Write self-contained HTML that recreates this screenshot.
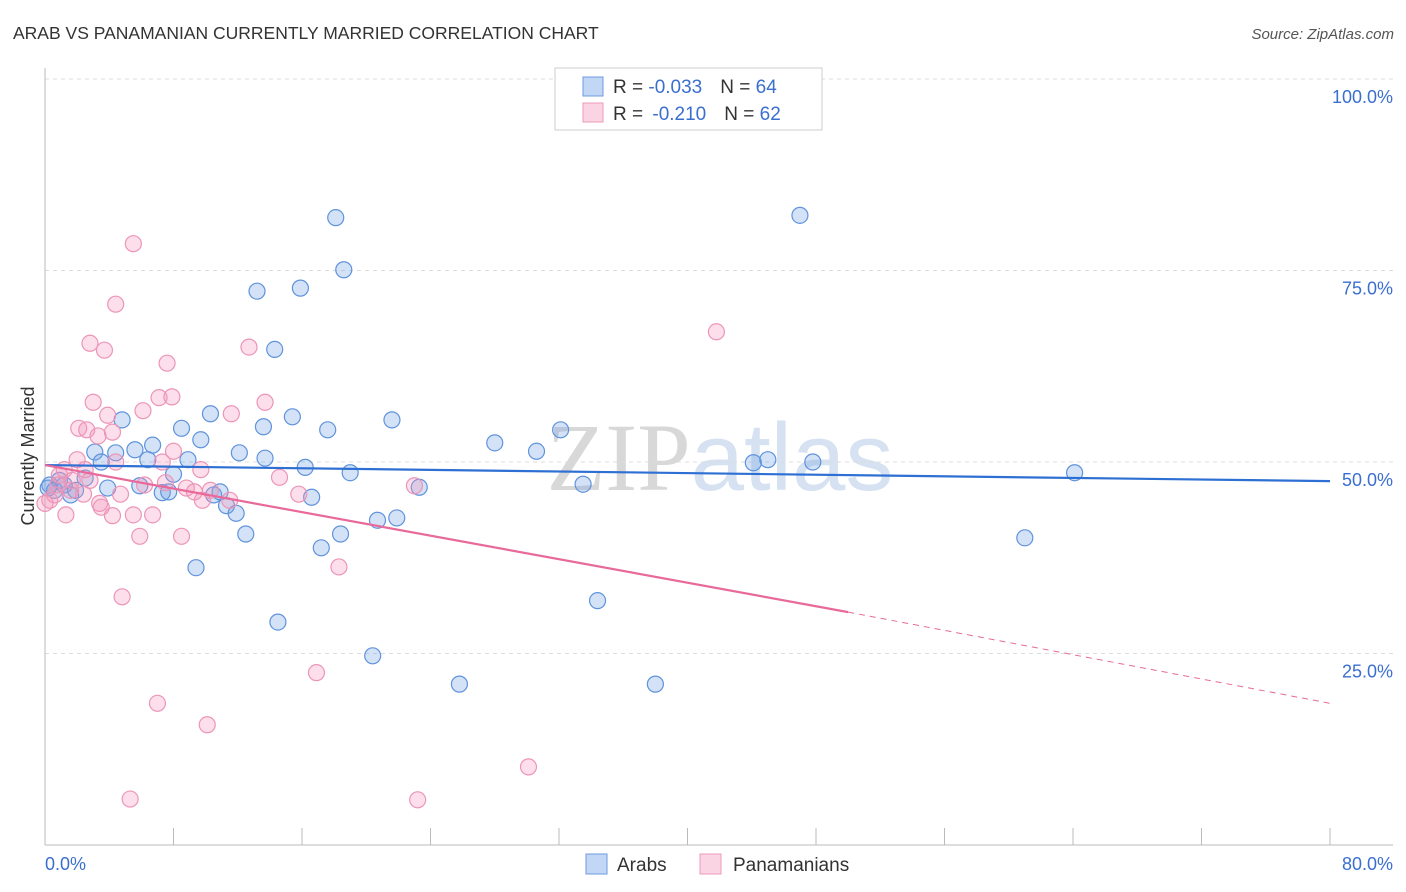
<!DOCTYPE html>
<html><head><meta charset="utf-8">
<style>
body{margin:0;background:#fff;font-family:"Liberation Sans",sans-serif;}
#wrap{position:relative;width:1406px;height:892px;overflow:hidden;}
</style></head>
<body>
<div id="wrap">
<svg id="svg" width="1406" height="892" xmlns="http://www.w3.org/2000/svg">
<text x="13" y="39" font-size="17.5" fill="#333">ARAB VS PANAMANIAN CURRENTLY MARRIED CORRELATION CHART</text>
<text x="1394" y="39" font-size="15" fill="#555" font-style="italic" text-anchor="end">Source: ZipAtlas.com</text>
<text x="720" y="490" font-size="96" fill="#e3e8ef" text-anchor="middle" font-family="Liberation Serif,serif"><tspan fill="#d8d8d8">ZIP</tspan><tspan fill="#d6e2f2" font-family="Liberation Sans,sans-serif">atlas</tspan></text>
<g id="grid"></g>
<g id="axes"></g>
<g id="pts"></g>
<g id="trend"></g>
<text transform="translate(34,456) rotate(-90)" font-size="18" fill="#333" text-anchor="middle">Currently Married</text>
<g>
<rect x="555" y="68" width="267" height="62" fill="#fff" stroke="#ccc"/>
<rect x="583" y="77" width="20" height="19" fill="rgba(120,165,235,0.45)" stroke="#6d9be0"/>
<rect x="583" y="103" width="20" height="19" fill="rgba(245,160,190,0.45)" stroke="#ee9bbb"/>
<text x="613" y="93" font-size="19" fill="#333">R = <tspan fill="#3a6fd0">-0.033</tspan><tspan dx="18">N = </tspan><tspan fill="#3a6fd0">64</tspan></text>
<text x="613" y="120" font-size="19" fill="#333">R = <tspan fill="#3a6fd0" dx="4">-0.210</tspan><tspan dx="18">N = </tspan><tspan fill="#3a6fd0">62</tspan></text>
</g>
<g>
<rect x="586" y="854" width="21" height="20" fill="rgba(120,165,235,0.45)" stroke="#6d9be0"/>
<text x="617" y="871" font-size="19" fill="#333">Arabs</text>
<rect x="700" y="854" width="21" height="20" fill="rgba(245,160,190,0.45)" stroke="#ee9bbb"/>
<text x="733" y="871" font-size="19" fill="#333">Panamanians</text>
</g>
</svg>
</div>
<script>
const yTicks=[25,50,75,100];
const yTickLabels=["25.0%","50.0%","75.0%","100.0%"];
const xTicks=[0,8,16,24,32,40,48,56,64,72,80];
const arabX=[18.1,47.0,18.6,13.2,15.9,14.3,4.8,10.3,15.4,21.6,8.5,13.6,17.6,6.7,9.7,28.0,32.1,30.6,3.1,4.4,5.6,12.1,13.7,3.5,6.4,8.9,16.2,19.0,8.0,2.5,0.9,0.3,0.6,1.6,3.9,5.9,7.3,7.7,10.5,10.9,11.3,11.9,16.6,23.3,20.7,21.9,33.5,44.1,45.0,47.8,64.1,61.0,12.5,17.2,18.4,9.4,14.5,34.4,20.4,25.8,38.0,1.2,1.9,0.2];
const arabY=[81.9,82.2,75.1,72.3,72.7,64.7,55.5,56.3,55.9,55.5,54.4,54.6,54.2,52.2,52.9,52.5,54.2,51.4,51.3,51.2,51.6,51.2,50.5,50.0,50.3,50.3,49.3,48.6,48.4,47.9,47.6,47.0,46.3,45.7,46.6,46.9,46.0,46.1,45.7,46.1,44.3,43.3,45.4,46.7,42.4,42.7,47.1,49.9,50.3,50.0,48.6,40.1,40.6,38.8,40.6,36.2,29.1,31.9,24.7,21.0,21.0,47.0,46.3,46.6];
const panX=[5.5,4.4,2.8,3.7,7.6,12.7,41.8,3.0,3.9,7.1,7.9,6.1,11.6,13.7,2.1,2.6,3.3,4.2,2.0,4.4,7.3,8.0,14.6,8.8,9.3,9.8,15.8,23.0,2.4,3.4,3.5,4.7,5.5,6.7,4.2,1.3,5.9,8.5,18.3,4.8,16.9,7.0,10.1,30.1,5.3,23.2,0.9,1.6,0.6,0.3,0.0,1.2,2.5,6.2,7.5,9.7,1.7,2.8,0.8,10.3,11.5];
const panY=[78.5,70.6,65.5,64.6,62.9,65.0,67.0,57.8,56.1,58.4,58.5,56.7,56.3,57.8,54.4,54.2,53.4,53.9,50.3,50.0,50.0,51.4,48.0,46.6,46.1,45.0,45.8,46.9,45.8,44.6,44.1,45.8,43.1,43.1,43.0,43.1,40.3,40.3,36.3,32.4,22.5,18.5,15.7,10.2,6.0,5.9,48.3,46.3,45.7,45.0,44.6,49.0,49.0,47.0,47.3,49.0,47.6,47.6,47.0,46.3,45.0];
const arabTrend=[49.6,47.5];      // y at x=0 and x=80
const panTrend=[49.6,30.4,18.5];  // y at x=0, x=50 (solid end), x=80
const NS="http://www.w3.org/2000/svg";
const X=v=>45+v*1285/80, Y=v=>845-v*(845-79)/100;
function mk(t,a,p){const e=document.createElementNS(NS,t);for(const k in a)e.setAttribute(k,a[k]);p.appendChild(e);return e;}
const grid=document.getElementById('grid'),axes=document.getElementById('axes'),pts=document.getElementById('pts'),tr=document.getElementById('trend');
yTicks.forEach((t,i)=>{
 const l=mk('line',{x1:45,x2:1393,y1:Y(t),y2:Y(t),stroke:'#dcdcdc','stroke-dasharray':'4,4'},grid);
 
 
 const tx=mk('text',{x:1393,y:Y(t)+24,'font-size':18,fill:'#3a6fd0','text-anchor':'end'},axes);
 tx.textContent=yTickLabels[i];
 
 
});
const ya=mk('line',{x1:45,x2:45,y1:68,y2:845,stroke:'#bbb'},axes);


const xa=mk('line',{x1:45,x2:1393,y1:845,y2:845,stroke:'#bbb'},axes);


xTicks.forEach(t=>{
 const l=mk('line',{x1:X(t),x2:X(t),y1:828,y2:845,stroke:'#bbb'},axes);
 
 
});
[[0,'0.0%','start',45],[80,'80.0%','end',1393]].forEach(d=>{
 const tx=mk('text',{x:d[3],y:870,'font-size':18,fill:'#3a6fd0','text-anchor':d[2]},axes);
 tx.textContent=d[1];
 
 
});
arabX.forEach((v,i)=>{
 const c=mk('circle',{cx:X(v),cy:Y(arabY[i]),r:8,fill:'rgba(110,160,230,0.3)',stroke:'#5f93dc','stroke-width':1.2},pts);
 
 
});
panX.forEach((v,i)=>{
 const c=mk('circle',{cx:X(v),cy:Y(panY[i]),r:8,fill:'rgba(245,150,185,0.3)',stroke:'#ec95b8','stroke-width':1.2},pts);
 
 
});
const bl=mk('line',{x1:X(0),y1:Y(arabTrend[0]),x2:X(80),y2:Y(arabTrend[1]),stroke:'#2d6fd3','stroke-width':2.2},tr);


const pl=mk('line',{x1:X(0),y1:Y(panTrend[0]),x2:X(50),y2:Y(panTrend[1]),stroke:'#e8699a','stroke-width':2.2},tr);


const pd=mk('line',{x1:X(50),y1:Y(panTrend[1]),x2:X(80),y2:Y(panTrend[2]),stroke:'#e8699a','stroke-width':1,'stroke-dasharray':'6,5'},tr);


</script>
</body></html>
